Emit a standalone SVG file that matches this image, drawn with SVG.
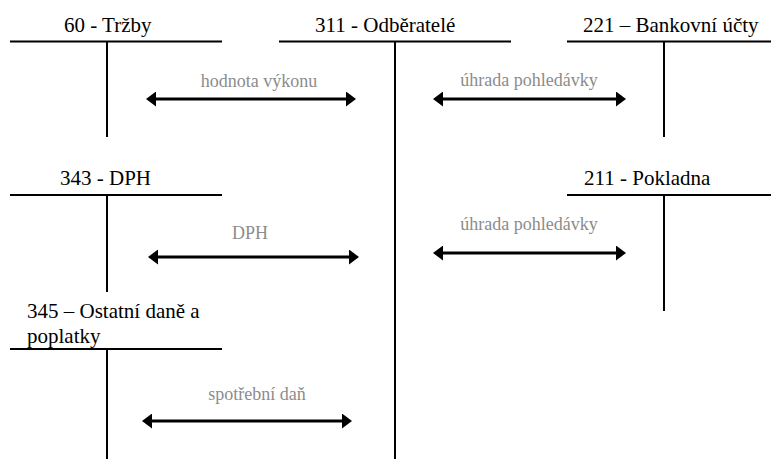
<svg xmlns="http://www.w3.org/2000/svg" width="771" height="459" viewBox="0 0 771 459">
<style>
.t{stroke:#000;stroke-width:2;fill:none}
.title{font-family:'Liberation Serif','Times New Roman',serif;font-size:21px;fill:#000}
.lbl{font-family:'Liberation Serif','Times New Roman',serif;font-size:18px;fill:#8c8c8c;text-anchor:middle}
.arr{stroke:#000;stroke-width:3;fill:none;marker-start:url(#ah);marker-end:url(#ah)}
</style>
<defs>
<marker id="ah" markerUnits="userSpaceOnUse" markerWidth="10" markerHeight="15" refX="2" refY="7.5" orient="auto-start-reverse" viewBox="0 0 10 15">
<path d="M0,0 L10,7.5 L0,15 z" fill="#000"/>
</marker>
</defs>
<rect width="771" height="459" fill="#fff"/>
<g id="acc60">
<text class="title" x="64" y="32">60 - Tržby</text>
<path class="t" d="M10,41.5 H222 M107,41.5 V137"/>
</g>
<g id="acc311">
<text class="title" x="315" y="32">311 - Odběratelé</text>
<path class="t" d="M279,41.5 H511 M395,41.5 V459"/>
</g>
<g id="acc221">
<text class="title" x="583" y="32">221 – Bankovní účty</text>
<path class="t" d="M567,41.5 H771 M664,41.5 V137"/>
</g>
<g id="acc343">
<text class="title" x="60" y="185">343 - DPH</text>
<path class="t" d="M10,195 H222 M107,195 V292"/>
</g>
<g id="acc211">
<text class="title" x="584" y="185">211 - Pokladna</text>
<path class="t" d="M567,195 H771 M664,195 V311"/>
</g>
<g id="acc345">
<text class="title" x="27" y="318">345 – Ostatní daně a</text>
<text class="title" x="27" y="343">poplatky</text>
<path class="t" d="M10,349 H222 M107,349 V459"/>
</g>
<g id="connectors">
<line class="arr" x1="154" y1="99" x2="348" y2="99"/>
<text class="lbl" x="259" y="87">hodnota výkonu</text>
<line class="arr" x1="441" y1="99" x2="618" y2="99"/>
<text class="lbl" x="529" y="86">úhrada pohledávky</text>
<line class="arr" x1="156" y1="257" x2="351" y2="257"/>
<text class="lbl" x="250" y="239">DPH</text>
<line class="arr" x1="441" y1="253" x2="618" y2="253"/>
<text class="lbl" x="529" y="230">úhrada pohledávky</text>
<line class="arr" x1="150" y1="421" x2="344" y2="421"/>
<text class="lbl" x="257" y="400">spotřební daň</text>
</g>
</svg>
